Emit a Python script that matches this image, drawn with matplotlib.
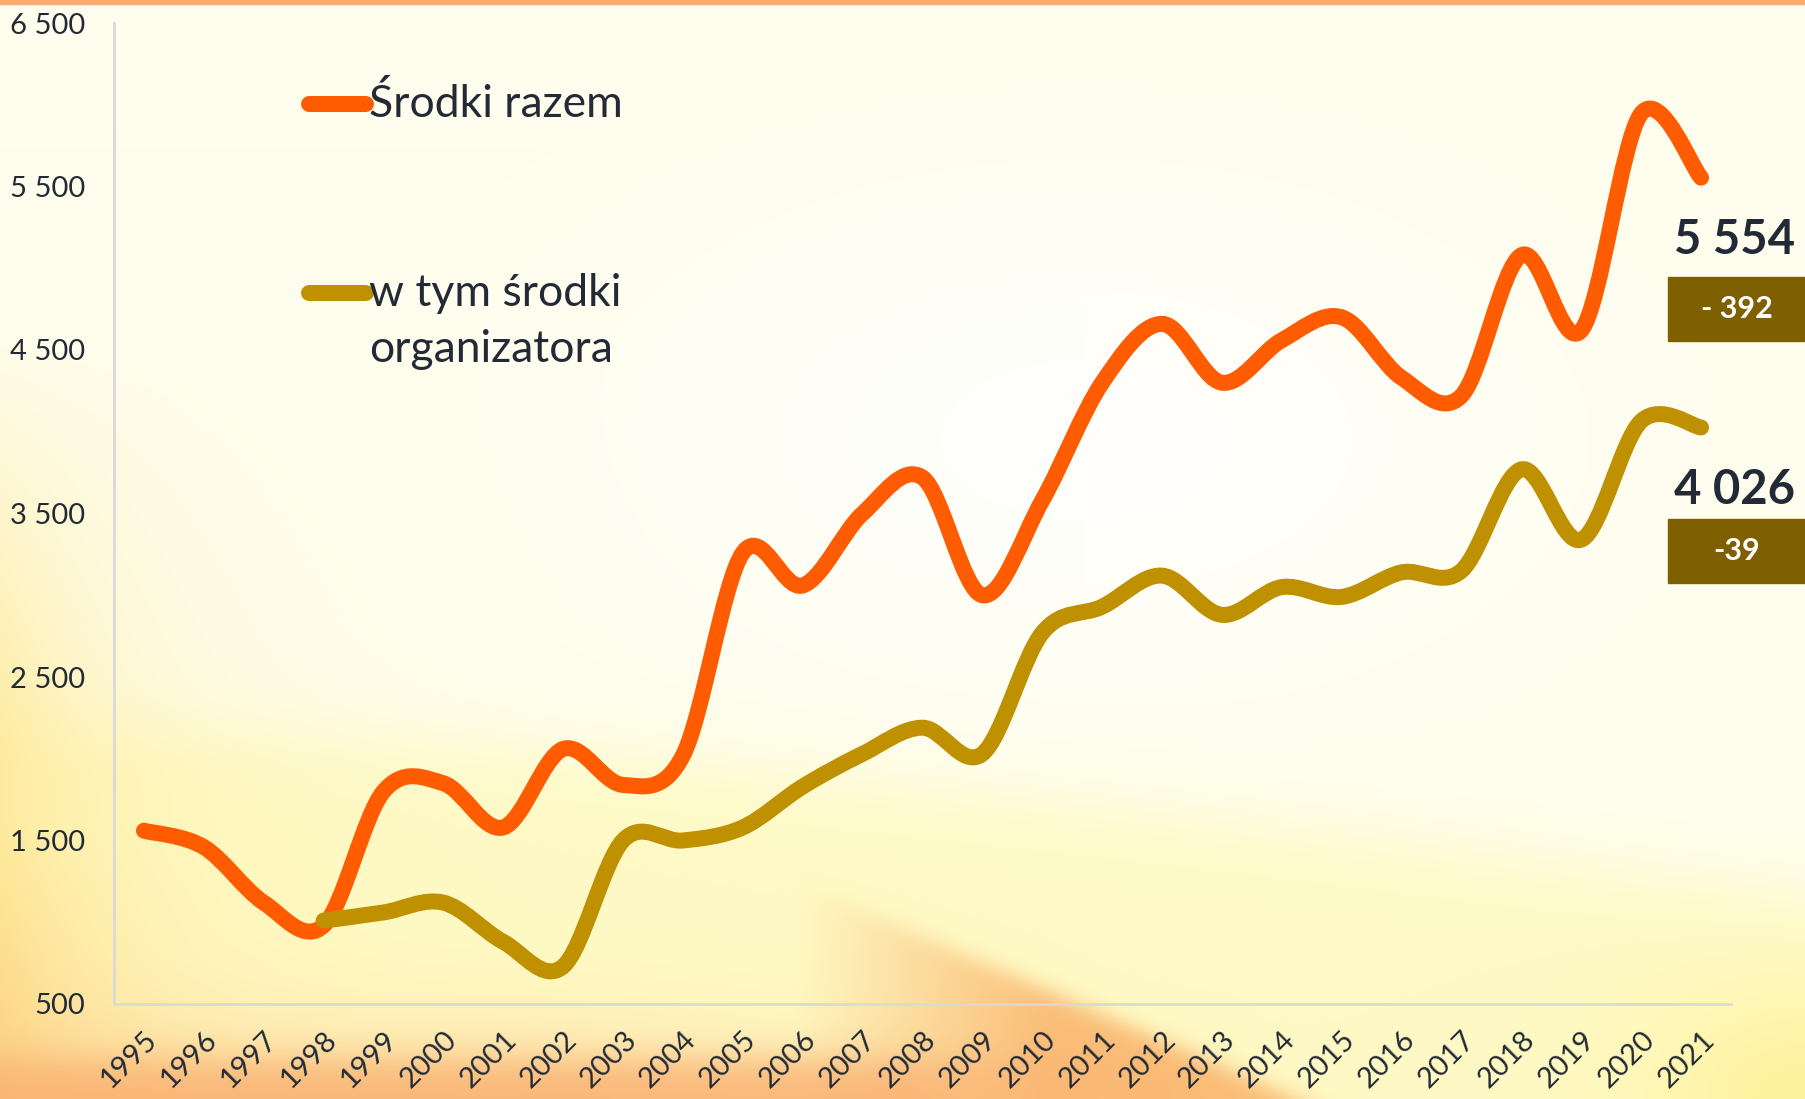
import numpy as np
import matplotlib
matplotlib.use("Agg")
import matplotlib.pyplot as plt
from matplotlib.path import Path
from matplotlib.patches import PathPatch, Rectangle
from matplotlib.lines import Line2D

# dane
years = list(range(1995, 2022))
srodki_razem = [1560, 1460, 1120, 980, 1800, 1850, 1580, 2060, 1840, 2020,
                3260, 3060, 3500, 3720, 3000, 3580, 4300, 4660, 4300, 4560,
                4700, 4330, 4220, 5080, 4620, 5946, 5554]
org_years = years[3:]
srodki_organizatora = [1010, 1060, 1120, 880, 730, 1500, 1500, 1580, 1830, 2030,
                       2190, 2030, 2770, 2930, 3120, 2880, 3050, 2990, 3140, 3150,
                       3770, 3340, 4065, 4026]
yticks = [500, 1500, 2500, 3500, 4500, 5500, 6500]
label_razem = ["Środki razem"]
label_org = ["w tym środki", "organizatora"]
last_vals = ["5 554", "4 026"]
changes = ["- 392", "-39"]

ORANGE = "#FF5B00"
OLIVE = "#BF9000"
BOX = "#7F6000"
TXT = "#222A35"

plt.rcParams['font.family'] = ['Lato', 'DejaVu Sans']

W, H = 1806, 1099
fig = plt.figure(figsize=(W / 100, H / 100), dpi=100)

# tlo - gradient
bg = fig.add_axes([0, 0, 1, 1], zorder=-5)
h, w = 300, 500
u = np.linspace(0, 1, w)[None, :].repeat(h, 0)
v = np.linspace(0, 1, h)[:, None].repeat(w, 1)
img = np.ones((h, w, 3)) * np.array([1.0, 0.995, 0.93])


def mix(img, wgt, col):
    wgt = np.clip(wgt, 0, 1)[..., None]
    return img * (1 - wgt) + np.array(col) * wgt


sig = lambda t: 1 / (1 + np.exp(-t))
img = mix(img, np.exp(-((u - 0.6) ** 2 / 0.06 + (v - 0.4) ** 2 / 0.05)) * 0.8, (1, 1, 1))
img = mix(img, sig((v - (0.66 + 0.16 * u ** 1.5)) / 0.02) * 0.75, (1.0, 0.975, 0.72))
img = mix(img, np.exp(-u / 0.07) * np.clip((v - 0.3) / 0.4, 0, 1), (1.0, 0.92, 0.62))
img = mix(img, np.exp(-u / 0.05) * np.clip((v - 0.75) / 0.25, 0, 1), (0.99, 0.82, 0.5))
edge = 0.844 + (u - 0.498) * 0.716
img = mix(img, sig((v - edge) / 0.006) * np.clip((u - 0.44) / 0.14, 0, 1) * 0.95,
          (0.98, 0.73, 0.45))
img = mix(img, sig((v - 0.92) / 0.025) * np.clip((0.6 - u) / 0.3, 0, 1) * 0.4,
          (0.99, 0.84, 0.6))
img = mix(img, sig((v - 0.965) / 0.01) * np.clip((0.7 - u) / 0.2, 0, 1) * 0.9,
          (0.98, 0.70, 0.45))
img = mix(img, np.exp(-((u - 1) ** 2 / 0.008 + (v - 1) ** 2 / 0.01)), (1.0, 0.95, 0.62))
bg.imshow(img, extent=[0, 1, 0, 1], aspect='auto', interpolation='bilinear')
bg.set_xlim(0, 1)
bg.set_ylim(0, 1)
bg.axis('off')
fig.patches.append(Rectangle((0, 1 - 4 / H), 1, 4 / H, transform=fig.transFigure,
                             color="#FFAB74", zorder=10))

ax = fig.add_axes([114 / W, 1 - 1004 / H, (1731 - 114) / W, (1004 - 23) / H])
ax.set_facecolor('none')


def smooth_path(xs, ys):
    pts = np.column_stack([xs, ys]).astype(float)
    n = len(pts)
    verts = [pts[0]]
    codes = [Path.MOVETO]
    for i in range(n - 1):
        p0 = pts[max(i - 1, 0)]
        p1 = pts[i]
        p2 = pts[i + 1]
        p3 = pts[min(i + 2, n - 1)]
        c1 = p1 + (p2 - p0) / 6
        c2 = p2 - (p3 - p1) / 6
        verts += [c1, c2, p2]
        codes += [Path.CURVE4] * 3
    return Path(verts, codes)


x1 = np.arange(len(years))
x2 = np.arange(3, len(years))
for xs, ys, col in [(x1, srodki_razem, ORANGE), (x2, srodki_organizatora, OLIVE)]:
    ax.add_patch(PathPatch(smooth_path(xs, ys), fill=False, edgecolor=col,
                           lw=11.5, capstyle='round', joinstyle='round'))

ax.set_xlim(-0.5, len(years) - 0.5)
ax.set_ylim(500, 6500)
ax.set_yticks(yticks)
ax.set_yticklabels([f"{t:,}".replace(",", " ") for t in yticks])
ax.set_xticks(x1)
ax.set_xticklabels([str(y) for y in years], rotation=45, ha='right',
                   rotation_mode='anchor')
ax.tick_params(axis='y', length=0, pad=21, labelsize=21, labelcolor=TXT)
ax.tick_params(axis='x', length=0, pad=16, labelsize=21, labelcolor=TXT)
for s in ['top', 'right']:
    ax.spines[s].set_visible(False)
for s in ['left', 'bottom']:
    ax.spines[s].set_color('#D9D9D9')
    ax.spines[s].set_linewidth(2)

# legenda
for yy, col in [(104, ORANGE), (293, OLIVE)]:
    fig.add_artist(Line2D([309 / W, 366 / W], [1 - yy / H, 1 - yy / H], color=col,
                          lw=11.5, solid_capstyle='round', transform=fig.transFigure))
for yy, lab in [(104, label_razem[0]), (293, label_org[0]), (350, label_org[1])]:
    fig.text(369 / W, 1 - yy / H, lab, fontsize=32, color=TXT, va='center', ha='left')

# etykiety koncowe
for yv, yb, val, chg in [(240, 309, last_vals[0], changes[0]), (490, 551, last_vals[1], changes[1])]:
    fig.text(1795 / W, 1 - yv / H, val, fontsize=34, fontweight='bold', color=TXT,
             ha='right', va='center')
    fig.patches.append(Rectangle((1668 / W, 1 - (yb + 32) / H), 138 / W, 64 / H,
                                 transform=fig.transFigure, color=BOX, zorder=5))
    fig.text(1737 / W, 1 - yb / H, chg, fontsize=22, fontweight='bold', color='white',
             ha='center', va='center', zorder=6)

fig.savefig("out.png", dpi=100)
